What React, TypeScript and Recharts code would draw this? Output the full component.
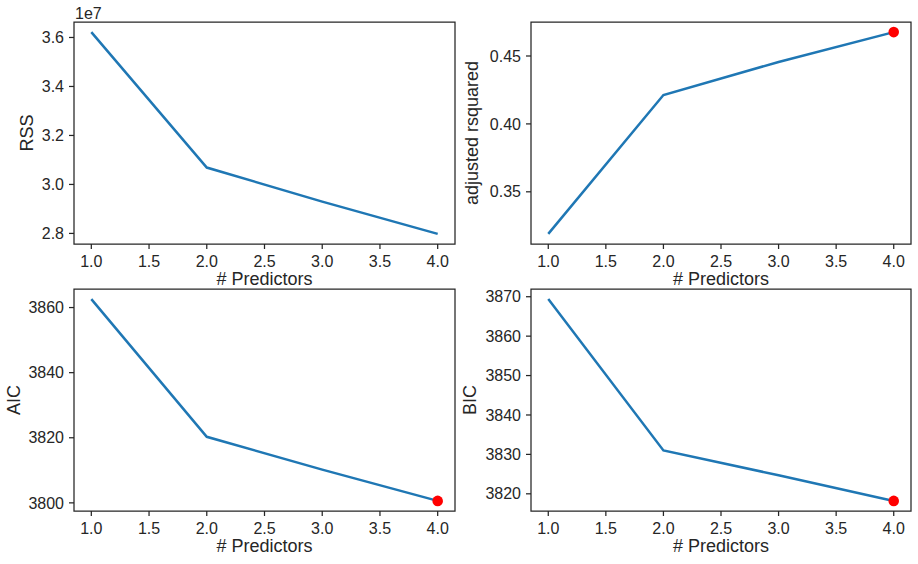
import { LineChart, Line, XAxis, YAxis, ReferenceArea, Label } from "recharts";

const predictors = [1, 2, 3, 4];
const xTicks = [1.0, 1.5, 2.0, 2.5, 3.0, 3.5, 4.0];

const rss = [36.22e6, 30.69e6, 29.3e6, 27.98e6];
const adjR2 = [0.319, 0.4213, 0.4456, 0.4676];
const aic = [3862.6, 3820.3, 3810.2, 3800.6];
const bic = [3869.4, 3831.0, 3824.7, 3818.2];

const rssTicks = [2.8e7, 3.0e7, 3.2e7, 3.4e7, 3.6e7];
const adjR2Ticks = [0.35, 0.4, 0.45];
const aicTicks = [3800, 3820, 3840, 3860];
const bicTicks = [3820, 3830, 3840, 3850, 3860, 3870];

const FONT = "'Liberation Sans', Arial, sans-serif";
const INK = "#262626";
const BLUE = "#1f77b4";
const TICK_FS = 16;

type PanelProps = {
  left: number;
  top: number;
  width: number;
  height: number;
  marginTop: number;
  marginRight: number;
  yAxisWidth: number;
  values: number[];
  yTicks: number[];
  yFormat: (v: number) => string;
  yLabel: string;
  yLabelOffset: number;
  best: number;
  offsetText?: string;
};

// matplotlib style auto-limits: 5% padding around the data
const pad = (vals: number[]): [number, number] => {
  const lo = Math.min(...vals);
  const hi = Math.max(...vals);
  const m = (hi - lo) * 0.05;
  return [lo - m, hi + m];
};

const Panel = (p: PanelProps) => {
  const plotH = 222;
  const data = predictors.map((n, i) => ({ n, v: p.values[i] }));
  const yDomain = pad(p.values);
  const xDomain: [number, number] = [0.85, 4.15];

  const renderDot = (props: any) => {
    const { cx, cy, index } = props;
    if (index !== p.best) return <g key={`d${index}`} />;
    return <circle key={`d${index}`} cx={cx} cy={cy} r={5.3} fill="#ff0000" />;
  };

  return (
    <div style={{ position: "absolute", left: p.left, top: p.top }}>
      <LineChart
        width={p.width}
        height={p.height}
        data={data}
        margin={{ top: p.marginTop, right: p.marginRight, left: 0, bottom: 0 }}
      >
        <XAxis
          dataKey="n"
          type="number"
          domain={xDomain}
          ticks={xTicks}
          interval={0}
          tickFormatter={(v: number) => v.toFixed(1)}
          height={p.height - p.marginTop - plotH}
          axisLine={false}
          tickSize={5}
          tickMargin={7}
          tickLine={{ stroke: INK, strokeWidth: 1.25 }}
          tick={{ fill: INK, fontSize: TICK_FS, fontFamily: FONT }}
        >
          <Label value="# Predictors" position="insideTop" offset={28} fontSize={18} fill={INK} fontFamily={FONT} />
        </XAxis>
        <YAxis
          type="number"
          domain={yDomain}
          ticks={p.yTicks}
          interval={0}
          tickFormatter={p.yFormat}
          width={p.yAxisWidth}
          axisLine={false}
          tickSize={5}
          tickMargin={5}
          tickLine={{ stroke: INK, strokeWidth: 1.25 }}
          tick={{ fill: INK, fontSize: TICK_FS, fontFamily: FONT }}
        >
          <Label
            value={p.yLabel}
            angle={-90}
            position="insideLeft"
            offset={p.yLabelOffset}
            fontSize={18}
            fill={INK}
            fontFamily={FONT}
            style={{ textAnchor: "middle" }}
          />
        </YAxis>
        <ReferenceArea
          x1={xDomain[0]}
          x2={xDomain[1]}
          y1={yDomain[0]}
          y2={yDomain[1]}
          fill="none"
          stroke={INK}
          strokeWidth={1.25}
          fillOpacity={0}
          ifOverflow="visible"
        >
          {p.offsetText ? (
            <Label
              content={({ viewBox }: any) => (
                <text x={viewBox.x + 1} y={viewBox.y - 3} fontSize={TICK_FS} fill={INK} fontFamily={FONT}>
                  {p.offsetText}
                </text>
              )}
            />
          ) : null}
        </ReferenceArea>
        <Line
          type="linear"
          dataKey="v"
          stroke={BLUE}
          strokeWidth={2.5}
          dot={renderDot}
          activeDot={false}
          isAnimationActive={false}
        />
      </LineChart>
    </div>
  );
};

const App = () => {
  return (
    <div style={{ position: "absolute", left: 0, top: 0, width: 918, height: 564, background: "#fff" }}>
      <Panel
        left={0}
        top={0}
        width={460}
        height={296}
        marginTop={22}
        marginRight={5}
        yAxisWidth={74}
        values={rss}
        yTicks={rssTicks}
        yFormat={(v) => (v / 1e7).toFixed(1)}
        yLabel="RSS"
        yLabelOffset={27}
        best={-1}
        offsetText="1e7"
      />
      <Panel
        left={460}
        top={0}
        width={458}
        height={296}
        marginTop={22}
        marginRight={7}
        yAxisWidth={71}
        values={adjR2}
        yTicks={adjR2Ticks}
        yFormat={(v) => v.toFixed(2)}
        yLabel="adjusted rsquared"
        yLabelOffset={12}
        best={3}
      />
      <Panel
        left={0}
        top={282}
        width={460}
        height={282}
        marginTop={7}
        marginRight={5}
        yAxisWidth={74}
        values={aic}
        yTicks={aicTicks}
        yFormat={(v) => String(v)}
        yLabel="AIC"
        yLabelOffset={14}
        best={3}
      />
      <Panel
        left={460}
        top={282}
        width={458}
        height={282}
        marginTop={7}
        marginRight={7}
        yAxisWidth={71}
        values={bic}
        yTicks={bicTicks}
        yFormat={(v) => String(v)}
        yLabel="BIC"
        yLabelOffset={10}
        best={3}
      />
    </div>
  );
};

export default App;
